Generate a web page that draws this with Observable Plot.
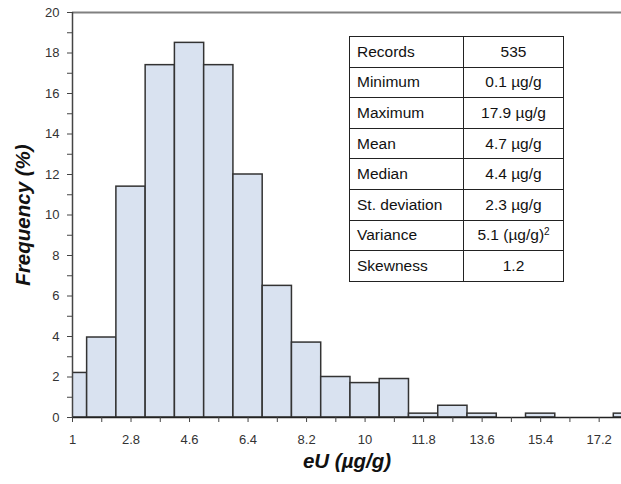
<!DOCTYPE html>
<html><head><meta charset="utf-8">
<script src="https://cdn.jsdelivr.net/npm/d3@7"></script>
<script src="https://cdn.jsdelivr.net/npm/@observablehq/plot@0.6"></script>
<style>
body{margin:0;background:#fff;}
#wrap{position:relative;width:621px;height:484px;overflow:hidden;}
#stats{position:absolute;left:349px;top:36px;border-collapse:collapse;font-family:"Liberation Sans",Arial,sans-serif;font-size:15.5px;color:#111;background:#fff;table-layout:fixed;}
#stats td{border:1.5px solid #222;height:30.6px;padding:0 0 0 7px;box-sizing:border-box;white-space:nowrap;}
#stats td.v{text-align:center;padding:0;}
#stats sup{font-size:10px;vertical-align:5px;line-height:0;}
</style>
</head><body>
<div id="wrap"></div>
<script>
const binCenters = [1, 1.9, 2.8, 3.7, 4.6, 5.5, 6.4, 7.3, 8.2, 9.1, 10, 10.9, 11.8, 12.7, 13.6, 14.5, 15.4, 16.3, 17.2, 18.1];
const frequency  = [2.2, 3.95, 11.4, 17.4, 18.5, 17.4, 12.0, 6.5, 3.7, 2.0, 1.7, 1.9, 0.19, 0.58, 0.19, 0, 0.19, 0, 0, 0.19];
const binWidth = 0.9;
const xTicks = [1, 1.9, 2.8, 3.7, 4.6, 5.5, 6.4, 7.3, 8.2, 9.1, 10, 10.9, 11.8, 12.7, 13.6, 14.5, 15.4, 16.3, 17.2];
const xLabels = [1, 2.8, 4.6, 6.4, 8.2, 10, 11.8, 13.6, 15.4, 17.2];
const yTicks = [0, 1, 2, 3, 4, 5, 6, 7, 8, 9, 10, 11, 12, 13, 14, 15, 16, 17, 18, 19, 20];
const yLabels = [0, 2, 4, 6, 8, 10, 12, 14, 16, 18, 20];
const statNames = ["Records", "Minimum", "Maximum", "Mean", "Median", "St. deviation", "Variance", "Skewness"];
const statValues = ["535", "0.1 µg/g", "17.9 µg/g", "4.7 µg/g", "4.4 µg/g", "2.3 µg/g", "5.1 (µg/g)<sup>2</sup>", "1.2"];
const xTitle = "eU (µg/g)";
const yTitle = "Frequency (%)";

const bins = binCenters.map((c, i) => ({lo: c - binWidth / 2, hi: c + binWidth / 2, f: frequency[i]})).filter(d => d.f > 0);

const chart = Plot.plot({
  width: 621,
  height: 484,
  marginLeft: 72,
  marginRight: 0,
  marginTop: 12,
  marginBottom: 67,
  style: {fontFamily: "'Liberation Sans', Arial, sans-serif", fontSize: "13px", color: "#333", background: "#fff"},
  x: {domain: [1, 17.887], label: null},
  y: {domain: [0, 20], label: null},
  marks: [
    Plot.rectY(bins, {x1: "lo", x2: "hi", y: "f", fill: "#d9e2f0", stroke: "#333", strokeWidth: 1.5, clip: true}),
    Plot.ruleY([20], {stroke: "#808080", strokeWidth: 2}),
    Plot.ruleX([1], {stroke: "#444", strokeWidth: 1.5}),
    Plot.ruleY([0], {stroke: "#222", strokeWidth: 1.5}),
    Plot.axisY({ticks: yTicks, tickSize: 5, tickPadding: 8, tickFormat: d => yLabels.includes(d) ? String(d) : "", label: null, stroke: "#444"}),
    Plot.axisX({ticks: xTicks, tickSize: 5, tickPadding: 12, tickFormat: d => xLabels.includes(d) ? String(d) : "", label: null, stroke: "#444"}),
    Plot.text([xTitle], {frameAnchor: "bottom", dy: 50, fontSize: 20.5, fontWeight: "bold", fontStyle: "italic", fill: "#111"}),
    Plot.text([yTitle], {frameAnchor: "left", textAnchor: "middle", dx: -49, rotate: -90, fontSize: 20.5, fontWeight: "bold", fontStyle: "italic", fill: "#111"})
  ]
});
const wrap = document.getElementById("wrap");
wrap.appendChild(chart);

const table = document.createElement("table");
table.id = "stats";
table.innerHTML = '<colgroup><col style="width:114px"><col style="width:100px"></colgroup>' +
  statNames.map((n, i) => `<tr><td>${n}</td><td class="v">${statValues[i]}</td></tr>`).join("");
wrap.appendChild(table);
</script>
</body></html>
